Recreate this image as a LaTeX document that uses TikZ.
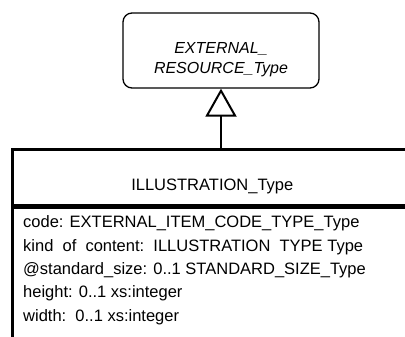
\documentclass[tikz,border=0pt]{standalone}
\usepackage{fontspec}
\setmainfont{Liberation Sans}
\usetikzlibrary{positioning, arrows.meta}

\begin{document}
\begin{tikzpicture}[
  x=1pt, y=1pt,
  res/.style={draw, rounded corners=9pt, line width=1.3pt, minimum width=196pt, minimum height=75pt, align=center, text height=50pt, text depth=4pt, font=\fontsize{16}{20}\selectfont\itshape},
  cls/.style={draw, line width=2.6pt, minimum width=400pt, minimum height=56pt, inner ysep=0pt, text height=40pt, text depth=13pt, font=\fontsize{16.5}{20}\selectfont},
  attr/.style={inner xsep=0pt, inner ysep=3pt, text height=12pt, text depth=5pt, font=\fontsize{16.5}{20}\selectfont},
  gen/.style={-{Triangle[open, length=28pt, width=31pt, line width=2pt]}, line width=2.6pt}
]
  \useasboundingbox (0,0) rectangle (405,337);
  \clip (0,0) rectangle (405,337);

  \node[res] (ext) at (221,286.5) {EXTERNAL\_\\RESOURCE\_Type};
  \node[cls, anchor=north west] (ill) at (11,189) {ILLUSTRATION\_Type};
  \node[cls, anchor=north, minimum height=160pt, text height=0pt, text depth=0pt] (body) at (ill.south) {};

  % attributes
  \node[attr, below right=6pt and 12pt of body.north west] (code) {code: EXTERNAL\_ITEM\_CODE\_TYPE\_Type};
  \node[attr, below right=0pt and 0pt of code.south west] (kind) {kind\ \ of\ \ content:\ \ ILLUSTRATION\ \ TYPE\ Type};
  \node[attr, below right=0pt and 0pt of kind.south west] (size) {@standard\_size: 0..1 STANDARD\_SIZE\_Type};
  \node[attr, below right=0pt and 0pt of size.south west] (hgt) {height: 0..1 xs:integer};
  \node[attr, below right=0pt and 0pt of hgt.south west] (wid) {width:\ \ 0..1 xs:integer};

  \coordinate (stem) at (ill.north -| ext.south);
  \draw[gen] (stem) -- (ext.south);
\end{tikzpicture}
\end{document}
